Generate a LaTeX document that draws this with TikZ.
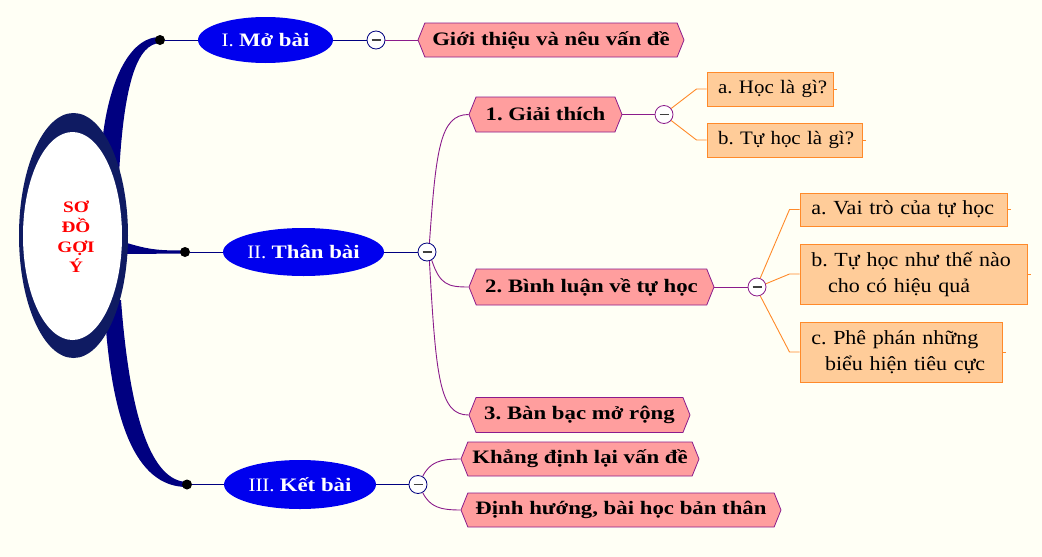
\documentclass[tikz,border=0pt]{standalone}
\usepackage{fontspec}
\setmainfont{Liberation Serif}[FakeStretch=1.1, BoldFeatures={FakeStretch=1.2}]
\usetikzlibrary{shapes.geometric,shapes.symbols}
\definecolor{bg}{HTML}{FFFFF5}
\definecolor{navy}{HTML}{000080}
\definecolor{ring}{HTML}{0F1B62}
\definecolor{eblue}{HTML}{0000EE}
\definecolor{pinkf}{HTML}{FF9E9E}
\definecolor{purp}{HTML}{8B1C8B}
\definecolor{orf}{HTML}{FFCC99}
\definecolor{ord}{HTML}{FF8A2A}
\definecolor{rootred}{HTML}{FF0000}
\tikzset{
  pinkbox/.style={signal, signal to=west and east, signal pointer angle=136, fill=pinkf, draw=purp, line width=0.8pt, inner sep=0pt, font=\fontsize{19}{22}\selectfont\bfseries\frenchspacing, text=black},
  orbox/.style={rectangle, fill=orf, draw=ord, line width=1pt, inner xsep=8pt, inner ysep=0pt, font=\fontsize{20}{26}\selectfont\frenchspacing, align=left, text=black},
  orsmall/.style={orbox, font=\fontsize{19}{26}\selectfont\frenchspacing},
  blueell/.style={ellipse, fill=eblue, inner sep=0pt, text=white, font=\fontsize{19}{22}\selectfont\frenchspacing},
  dotnode/.style={circle, fill=black, minimum size=10pt, inner sep=0pt},
  togg/.style={circle, fill=white, draw=#1, line width=0.8pt, minimum size=18pt, inner sep=0pt,
    path picture={\draw[line width=1.2pt, black!75] ([xshift=-4.5pt]path picture bounding box.center) -- ([xshift=4.5pt]path picture bounding box.center);}},
  navyline/.style={draw=navy, line width=1pt},
  purpline/.style={draw=purp, line width=0.9pt},
  orline/.style={draw=ord, line width=0.9pt},
}
\begin{document}
\begin{tikzpicture}[x=1pt,y=-1pt]
\useasboundingbox (0,0) rectangle (1042,557);
\fill[bg] (0,0) rectangle (1042,557);

% tapered main branches
\fill[navy] (100,175) .. controls (102,95) and (125,37) .. (160,37) -- (160,43) .. controls (138,44) and (124,80) .. (119,175) -- cycle;
\fill[navy] (127,243) .. controls (150,250) and (160,250.5) .. (185,250.5) -- (185,253.5) -- (127,254) -- cycle;
\fill[navy] (104,300) .. controls (110,420) and (135,487) .. (187,487) -- (187,482) .. controls (152,481) and (130,420) .. (121,300) -- cycle;

% root
\node[ellipse, fill=ring, minimum width=109pt, minimum height=245pt, inner sep=0pt] (root) at (73.5,235.5) {};
\node[ellipse, fill=white, minimum width=99pt, minimum height=208pt, inner sep=0pt] (rootin) at (72.5,236) {};
\node[align=center, text=rootred, font=\fontsize{16}{20}\selectfont\bfseries] (roottxt) at (76,237) {SƠ\\ĐỒ\\GỢI\\Ý};

% dots
\node[dotnode] (d1) at (160,40) {};
\node[dotnode] (d2) at (185,252) {};
\node[dotnode] (d3) at (187,484.5) {};

% main ellipses
\node[blueell, minimum width=135pt, minimum height=46pt] (e1) at (265.5,40) {I. \textbf{Mở bài}};
\node[blueell, minimum width=161pt, minimum height=48pt] (e2) at (303.5,252) {II. \textbf{Thân bài}};
\node[blueell, minimum width=152pt, minimum height=49pt] (e3) at (300,484.5) {III. \textbf{Kết bài}};

% toggles
\node[togg=navy] (c1) at (376,40) {};
\node[togg=navy] (c2) at (427,252) {};
\node[togg=navy] (c3) at (418,484.5) {};
\node[togg=purp] (cg) at (664,114.5) {};
\node[togg=purp] (cb) at (757,287) {};

% pink boxes
\node[pinkbox, minimum width=266pt, minimum height=34pt] (g) at (551,40) {Giới thiệu và nêu vấn đề};
\node[pinkbox, minimum width=153pt, minimum height=35pt] (b1) at (545.5,114.5) {1. Giải thích};
\node[pinkbox, minimum width=245pt, minimum height=36pt] (b2) at (591.5,287) {2. Bình luận về tự học};
\node[pinkbox, minimum width=221pt, minimum height=35pt] (b3) at (579.5,415) {3. Bàn bạc mở rộng};
\node[pinkbox, minimum width=238pt, minimum height=34pt] (k) at (580,459) {Khẳng định lại vấn đề};
\node[pinkbox, minimum width=320pt, minimum height=34pt] (dh) at (621,510) {Định hướng, bài học bản thân};

% orange boxes
\node[orsmall, minimum width=126pt, minimum height=34pt, text width=110pt] (a1) at (770,89) {\mbox{\,a. Học là gì?}};
\node[orsmall, minimum width=155pt, minimum height=34pt, text width=139pt] (a2) at (784.5,140) {\mbox{\,b. Tự học là gì?}};
\node[orbox, minimum width=207pt, minimum height=33pt, text width=191pt] (va) at (903.5,209.5) {\mbox{\,a. Vai trò của tự học}};
\node[orbox, minimum width=227pt, minimum height=60pt, text width=211pt] (th) at (913.5,274) {\mbox{\,b. Tự học như thế nào}\\\mbox{\hspace*{20pt}cho có hiệu quả}};
\node[orbox, minimum width=202pt, minimum height=60pt, text width=186pt] (ph) at (901,352) {\mbox{\,c. Phê phán những}\\\mbox{\hspace*{17pt}biểu hiện tiêu cực}};

% connectors
\draw[navyline] (d1) -- (e1);
\draw[navyline] (d2) -- (e2);
\draw[navyline] (d3) -- (e3);
\draw[navyline] (e1) -- (c1);
\draw[navyline] (e2) -- (c2);
\draw[navyline] (e3) -- (c3);
\draw[purpline] (c1) -- (g.west);
\draw[purpline] (c2.75) .. controls (436,150) and (440,114.5) .. (b1.west);
\draw[purpline] (c2.-60) .. controls (440,285) and (448,287) .. (b2.west);
\draw[purpline] (c2.-75) .. controls (436,380) and (440,415) .. (b3.west);
\draw[purpline] (c3.60) .. controls (430,462) and (440,459) .. (k.west);
\draw[purpline] (c3.-60) .. controls (430,507) and (440,510) .. (dh.west);
\draw[purpline] (b1.east) -- (cg);
\draw[purpline] (b2.east) -- (cb);
\draw[orline] (cg.40) -- ([xshift=-10pt]a1.west) -- (a1.west);
\draw[orline] (cg.-40) -- ([xshift=-10pt]a2.west) -- (a2.west);
\draw[orline] (cb.70) -- ([xshift=-10pt]va.west) -- (va.west);
\draw[orline] (cb.20) -- ([xshift=-10pt]th.west) -- (th.west);
\draw[orline] (cb.-70) -- ([xshift=-10pt]ph.west) -- (ph.west);
% small stubs at the right of the orange boxes
\foreach \n in {a1,a2,va,th,ph}{\draw[orline] (\n.east) -- ([xshift=3pt]\n.east);}
\end{tikzpicture}
\end{document}
